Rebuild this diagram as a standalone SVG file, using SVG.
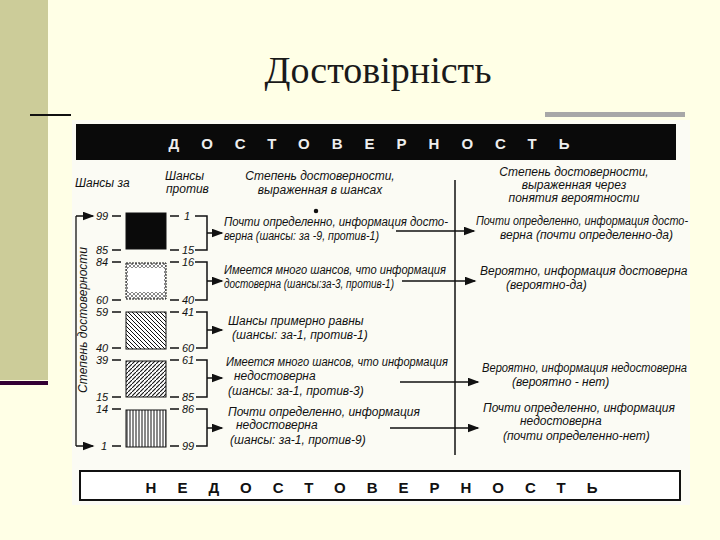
<svg xmlns="http://www.w3.org/2000/svg" width="720" height="540" viewBox="0 0 720 540">
<defs>
<style>
.t{font-family:"Liberation Sans",Arial,sans-serif;font-style:italic;font-size:12px;fill:#111}
.n{font-family:"Liberation Sans",Arial,sans-serif;font-style:italic;font-size:11px;fill:#111}
.b{font-family:"Liberation Sans",Arial,sans-serif;font-weight:bold;font-size:15px}
.l{stroke:#111;stroke-width:1.5;fill:none}
</style>
<pattern id="p1" width="4" height="4" patternUnits="userSpaceOnUse"><rect width="4" height="4" fill="#fff"/><path d="M0 0L4 4" stroke="#111" stroke-width="1"/></pattern>
<pattern id="p2" width="4" height="4" patternUnits="userSpaceOnUse"><rect width="4" height="4" fill="#fff"/><path d="M0 4L4 0" stroke="#111" stroke-width="1.1"/></pattern>
<pattern id="p3" width="3" height="4" patternUnits="userSpaceOnUse"><rect width="3" height="4" fill="#fff"/><path d="M1 0V4" stroke="#111" stroke-width="1"/></pattern>
<pattern id="p4" width="4" height="4" patternUnits="userSpaceOnUse"><rect width="4" height="4" fill="#fff"/><path d="M0 0L4 4M0 4L4 0" stroke="#555" stroke-width="0.7"/></pattern>
<marker id="a" markerWidth="8" markerHeight="6" refX="7" refY="3" orient="auto"><path d="M0 0L8 3L0 6z" fill="#111"/></marker>
</defs>
<rect width="720" height="540" fill="#FFFFE6"/>
<rect x="0" y="0" width="48" height="380" fill="#CCCC99"/>
<rect x="0" y="381" width="48" height="4" fill="#330033"/>
<rect x="30" y="114" width="41" height="2" fill="#111"/>
<rect x="545" y="112" width="140" height="5" fill="#A8A8A8"/>
<text x="378" y="83" text-anchor="middle" font-family="'Liberation Serif','Times New Roman',serif" font-size="38" fill="#1a1a1a">Достовірність</text>
<rect x="72" y="120" width="618" height="385" fill="#FBFBF4"/>
<rect x="76" y="124" width="600" height="36" fill="#0a0a0a"/>
<text x="380" y="149" text-anchor="middle" class="b" fill="#eee" letter-spacing="22">ДОСТОВЕРНОСТЬ</text>
<rect x="80" y="471" width="600" height="29" fill="#fff" stroke="#111" stroke-width="2"/>
<text x="382" y="493" text-anchor="middle" class="b" fill="#111" letter-spacing="21">НЕДОСТОВЕРНОСТЬ</text>
<g class="t">
<text x="75" y="187">Шансы за</text>
<text x="165" y="180">Шансы</text><text x="166" y="193">против</text>
<text x="320" y="180" text-anchor="middle">Степень достоверности,</text>
<text x="320" y="194" text-anchor="middle">выраженная в шансах</text>
<text x="574" y="176" text-anchor="middle">Степень достоверности,</text>
<text x="574" y="189" text-anchor="middle">выраженная через</text>
<text x="574" y="202" text-anchor="middle">понятия вероятности</text>
<text x="224" y="226" textLength="224" lengthAdjust="spacingAndGlyphs">Почти определенно, информация досто-</text>
<text x="224" y="240" textLength="155" lengthAdjust="spacingAndGlyphs">верна (шансы: за -9, против-1)</text>
<text x="224" y="274" textLength="222" lengthAdjust="spacingAndGlyphs">Имеется много шансов, что информация</text>
<text x="224" y="288" textLength="170" lengthAdjust="spacingAndGlyphs">достоверна (шансы:за-3, против-1)</text>
<text x="228" y="325">Шансы примерно равны</text>
<text x="232" y="339">(шансы: за-1, против-1)</text>
<text x="226" y="366" textLength="222" lengthAdjust="spacingAndGlyphs">Имеется много шансов, что информация</text>
<text x="234" y="380">недостоверна</text>
<text x="228" y="395">(шансы: за-1, против-3)</text>
<text x="228" y="416">Почти определенно, информация</text>
<text x="236" y="429">недостоверна</text>
<text x="230" y="444">(шансы: за-1, против-9)</text>
<text x="476" y="225" textLength="212" lengthAdjust="spacingAndGlyphs">Почти определенно, информация досто-</text>
<text x="500" y="239">верна (почти определенно-да)</text>
<text x="480" y="275">Вероятно, информация достоверна</text>
<text x="506" y="289">(вероятно-да)</text>
<text x="482" y="372" textLength="205" lengthAdjust="spacingAndGlyphs">Вероятно, информация недостоверна</text>
<text x="512" y="386">(вероятно - нет)</text>
<text x="483" y="412">Почти определенно, информация</text>
<text x="520" y="425">недостоверна</text>
<text x="503" y="440">(почти определенно-нет)</text>
</g>
<text transform="translate(87,320) rotate(-90)" text-anchor="middle" class="t" font-size="13">Степень достоверности</text>
<g id="bars" stroke="#111" stroke-width="1">
<rect x="126" y="213" width="40" height="36" fill="#0a0a0a"/>
<rect x="126" y="263" width="40" height="36" fill="url(#p4)" stroke-dasharray="2 1"/>
<rect x="128" y="268" width="36" height="24" fill="#fff" stroke="none"/>
<rect x="126" y="312" width="40" height="37" fill="url(#p1)"/>
<rect x="126" y="361" width="40" height="36" fill="url(#p2)"/>
<rect x="126" y="410" width="40" height="37" fill="url(#p3)"/>
</g>
<g class="n">
<text x="96" y="220">99</text><text x="96" y="254">85</text><text x="96" y="266">84</text>
<text x="96" y="304">60</text><text x="96" y="316">59</text><text x="96" y="352">40</text>
<text x="96" y="364">39</text><text x="96" y="401">15</text><text x="96" y="413">14</text>
<text x="101" y="450">1</text>
<text x="184" y="220">1</text><text x="182" y="254">15</text><text x="182" y="266">16</text>
<text x="182" y="304">40</text><text x="182" y="316">41</text><text x="182" y="352">60</text>
<text x="182" y="364">61</text><text x="182" y="401">85</text><text x="182" y="413">86</text>
<text x="182" y="450">99</text>
</g>
<g id="connectors" class="l">
<path d="M112 216h9M112 250h9M112 262h9M112 300h9M112 312h9M112 348h9M112 360h9M112 397h9M112 409h9M112 446h9"/>
<path d="M170 216h9M170 250h9M170 262h9M170 300h9M170 312h9M170 348h9M170 360h9M170 397h9M170 409h9M170 446h9"/>
<path d="M195 216h12v34h-12M195 262h12v38h-12M196 312h11v36h-11M196 360h11v37h-11M196 409h11v37h-11"/>
<path d="M207 233h15" marker-end="url(#a)"/>
<path d="M207 281h15" marker-end="url(#a)"/>
<path d="M207 330h15" marker-end="url(#a)"/>
<path d="M207 378h15" marker-end="url(#a)"/>
<path d="M207 428h15" marker-end="url(#a)"/>
<path d="M76 216v230" stroke-width="1.3"/>
<path d="M76 216h17" marker-end="url(#a)"/>
<path d="M76 446h17" marker-end="url(#a)"/>
<path d="M455 180V455"/>
<path d="M396 231h78" marker-end="url(#a)"/>
<path d="M402 281h73" marker-end="url(#a)"/>
<path d="M400 382h78" marker-end="url(#a)"/>
<path d="M390 428h88" marker-end="url(#a)"/>
<circle cx="316" cy="211" r="1.5" fill="#111"/>
</g>
</svg>
